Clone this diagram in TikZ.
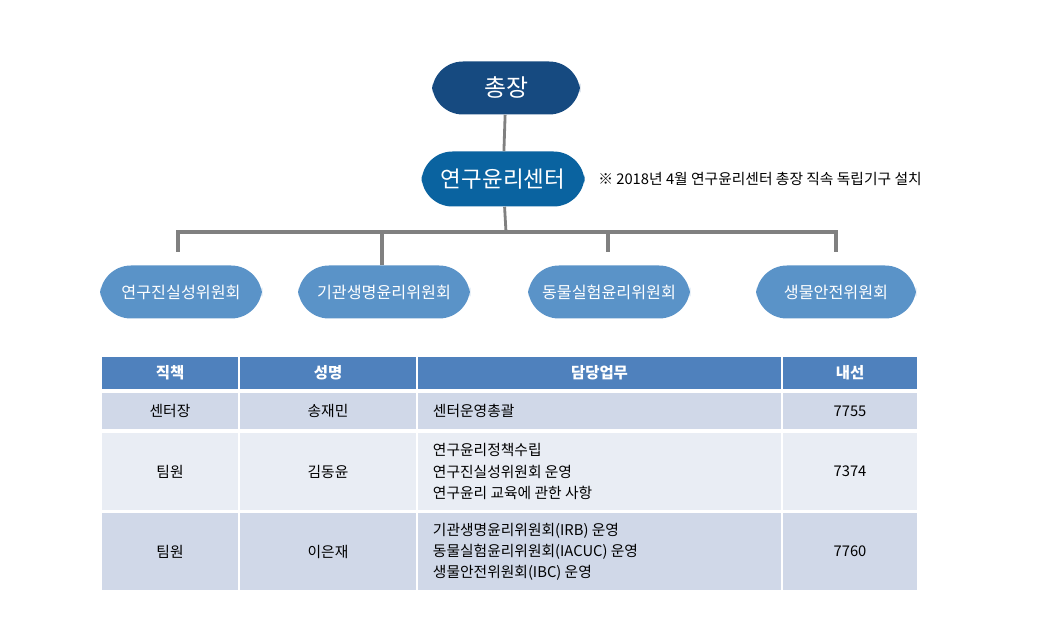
\documentclass[tikz,border=0pt]{standalone}
\usepackage{fontspec}
\setmainfont{Noto Sans CJK KR}
\usetikzlibrary{calc}
\definecolor{chiefblue}{HTML}{164A80}
\definecolor{centerblue}{HTML}{0A63A0}
\definecolor{cmtblue}{HTML}{5A93C8}
\definecolor{linegray}{HTML}{808080}
\definecolor{headblue}{HTML}{4F81BD}
\definecolor{rowdark}{HTML}{D0D8E8}
\definecolor{rowlight}{HTML}{E9EDF4}
\begin{document}
\begin{tikzpicture}[x=0.025cm,y=-0.025cm]
		\useasboundingbox (0,0) rectangle (1053,636);
		\tikzset{
			orgbox/.style={rounded corners=22, text=white, inner sep=0, align=center},
			cell/.style={draw=white, line width=1.5pt, inner sep=0},
			cmtbox/.style={orgbox, fill=cmtblue, minimum width=162*0.025cm, minimum height=53*0.025cm, font=\fontsize{11.5}{13}\selectfont}
		}
		% org chart
		\node[orgbox, fill=chiefblue, minimum width=148*0.025cm, minimum height=53*0.025cm, font=\fontsize{17}{19}\selectfont] (chief) at (506,88) {총장};
		\node[orgbox, fill=centerblue, minimum width=163*0.025cm, minimum height=55*0.025cm, font=\fontsize{16}{18}\selectfont] (center) at (503,179) {연구윤리센터};
		\node[anchor=west, inner sep=0, font=\fontsize{10.5}{12}\selectfont] (note) at (598,179) {※ 2018년 4월 연구윤리센터 총장 직속 독립기구 설치};
		
		\node[cmtbox] (c1) at (181,292) {연구진실성위원회};
		\node[cmtbox, minimum width=172*0.025cm] (c2) at (384,292) {기관생명윤리위원회};
		\node[cmtbox] (c3) at (609,292) {동물실험윤리위원회};
		\node[cmtbox, minimum width=160*0.025cm] (c4) at (836,292) {생물안전위원회};
		
		\coordinate (bus) at (506,232);
		\coordinate (d1) at (178,252);
		\coordinate (d3) at (608,252);
		\coordinate (d4) at (836,252);
		\draw[linegray, line width=2pt] (chief) -- (center);
		\draw[linegray, line width=2pt] (center) -- (bus);
		\draw[linegray, line width=3pt] (d1) |- (bus) -| (d4);
		\draw[linegray, line width=3pt] (c2.north -| 382,0) -- (382,232);
		\draw[linegray, line width=3pt] (d3) -- (608,232);
		
		% table
		\foreach \xa/\xb/\name/\txt in {101/239/h1/직책, 239/417/h2/성명, 417/782/h3/담당업무, 782/918/h4/내선}
			\node[cell, fill=headblue, text=white, font=\bfseries\fontsize{11}{13}\selectfont, minimum width={(\xb-\xa)*0.025cm}, minimum height=34*0.025cm] (\name) at ({(\xa+\xb)/2},373) {\txt};
		\foreach \y/\h/\col/\r in {411/39/rowdark/r1, 471.5/80/rowlight/r2, 551.5/80/rowdark/r3}
			\foreach \xa/\xb/\c in {101/239/a, 239/417/b, 417/782/c, 782/918/d}
				\node[cell, fill=\col, minimum width={(\xb-\xa)*0.025cm}, minimum height=\h*0.025cm] (\r\c) at ({(\xa+\xb)/2},\y) {};
		\begin{scope}[every node/.style={font=\fontsize{10.5}{15}\selectfont, align=left}]
		\node at (r1a) {센터장};
		\node at (r1b) {송재민};
		\node[anchor=west] at ($(r1c.west)+(12,0)$) {센터운영총괄};
		\node at (r1d) {7755};
		\node at (r2a) {팀원};
		\node at (r2b) {김동윤};
		\node[anchor=west] at ($(r2c.west)+(12,0)$) {연구윤리정책수립\\연구진실성위원회 운영\\연구윤리 교육에 관한 사항};
		\node at (r2d) {7374};
		\node at (r3a) {팀원};
		\node at (r3b) {이은재};
		\node[anchor=west] at ($(r3c.west)+(12,0)$) {기관생명윤리위원회(IRB) 운영\\동물실험윤리위원회(IACUC) 운영\\생물안전위원회(IBC) 운영};
		\node at (r3d) {7760};
		\end{scope}
\end{tikzpicture}
\end{document}
